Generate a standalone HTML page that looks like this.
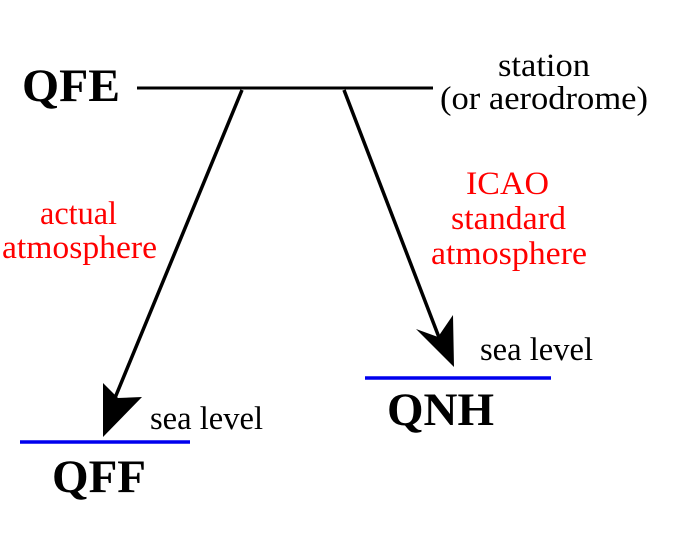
<!DOCTYPE html>
<html><head><style>
body{margin:0;background:#fff;}
svg{display:block}
text{font-family:"Liberation Serif",serif;}
</style></head><body>
<svg width="674" height="552" viewBox="0 0 674 552">
<rect width="674" height="552" fill="#fff"/>
<line x1="137" y1="88" x2="433" y2="88" stroke="#000" stroke-width="3"/>
<line x1="242" y1="90" x2="110" y2="410" stroke="#000" stroke-width="3.5"/>
<polygon points="103,437 103,383 118,398 142,397" fill="#000"/>
<line x1="344" y1="90" x2="440" y2="340" stroke="#000" stroke-width="3.5"/>
<polygon points="454,367 416,329 438,337 453,315" fill="#000"/>
<line x1="20" y1="442" x2="190" y2="442" stroke="#0000ee" stroke-width="3.5"/>
<line x1="365" y1="378" x2="551" y2="378" stroke="#0000ee" stroke-width="3.5"/>
<text x="22" y="101" font-size="47" font-weight="bold" textLength="98" lengthAdjust="spacingAndGlyphs">QFE</text>
<text x="387" y="425" font-size="47" font-weight="bold" textLength="107" lengthAdjust="spacingAndGlyphs">QNH</text>
<text x="52" y="492" font-size="47" font-weight="bold" textLength="94" lengthAdjust="spacingAndGlyphs">QFF</text>
<text x="498" y="76" font-size="33" textLength="92" lengthAdjust="spacingAndGlyphs">station</text>
<text x="440" y="109" font-size="33" textLength="208" lengthAdjust="spacingAndGlyphs">(or aerodrome)</text>
<g fill="#ff0000" font-size="33">
<text x="40" y="224" textLength="77" lengthAdjust="spacingAndGlyphs">actual</text>
<text x="2" y="258" textLength="155" lengthAdjust="spacingAndGlyphs">atmosphere</text>
<text x="466" y="194" textLength="83" lengthAdjust="spacingAndGlyphs">ICAO</text>
<text x="451" y="229" textLength="115" lengthAdjust="spacingAndGlyphs">standard</text>
<text x="431" y="264" textLength="156" lengthAdjust="spacingAndGlyphs">atmosphere</text>
</g>
<text x="480" y="360" font-size="33" textLength="113" lengthAdjust="spacingAndGlyphs">sea level</text>
<text x="150" y="429" font-size="33" textLength="113" lengthAdjust="spacingAndGlyphs">sea level</text>
</svg>
</body></html>
